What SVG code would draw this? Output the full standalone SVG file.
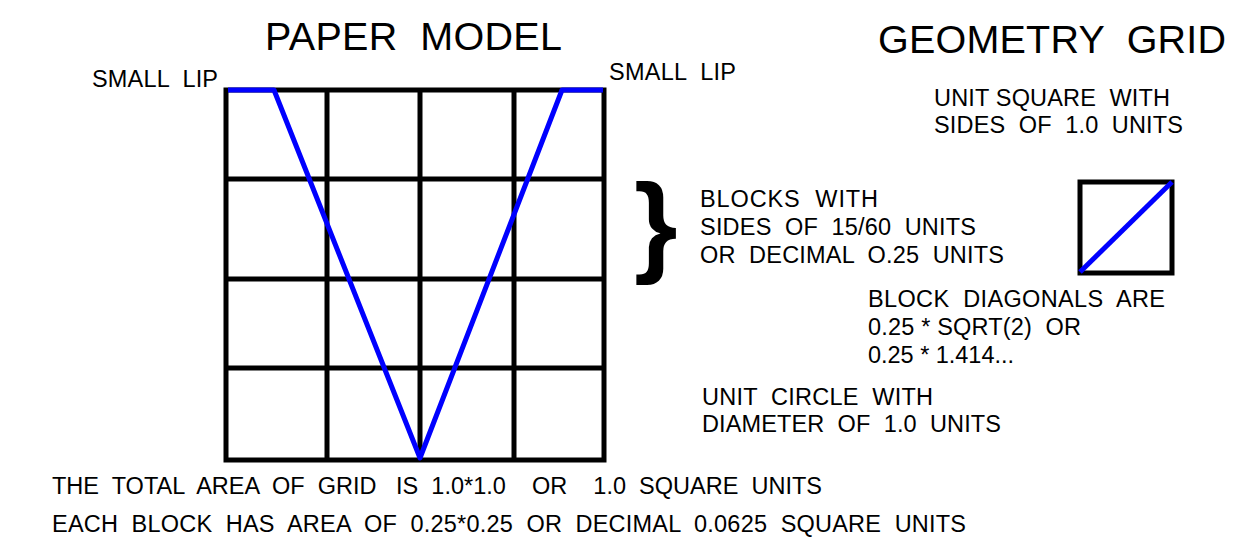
<svg xmlns="http://www.w3.org/2000/svg" width="1243" height="548" viewBox="0 0 1243 548" xml:space="preserve">
<style>
text{white-space:pre}
.t{font-family:"Liberation Sans",Arial,sans-serif;font-size:23.5px;fill:#000}
.h{font-family:"Liberation Sans",Arial,sans-serif;font-size:39.5px;fill:#000}
.g{stroke:#000;stroke-width:5;fill:none}
.b{stroke:#0000ff;stroke-width:5;fill:none;stroke-linejoin:round}
</style>
<rect width="1243" height="548" fill="#fff"/>
<g id="titles">
<text class="h" x="265" y="50" textLength="297" lengthAdjust="spacing">PAPER  MODEL</text>
<text class="h" x="878" y="53" textLength="348" lengthAdjust="spacing">GEOMETRY  GRID</text>
</g>
<g id="grid">
<rect class="g" x="226" y="90" width="378" height="370"/>
<line class="g" x1="327" y1="90" x2="327" y2="460"/>
<line class="g" x1="420" y1="90" x2="420" y2="460"/>
<line class="g" x1="514" y1="90" x2="514" y2="460"/>
<line class="g" x1="226" y1="179" x2="604" y2="179"/>
<line class="g" x1="226" y1="279" x2="604" y2="279"/>
<line class="g" x1="226" y1="368" x2="604" y2="368"/>
<polyline class="b" points="228,90 274,90 420,458 562,90 603,90"/>
</g>
<g id="lip-labels">
<text class="t" x="92" y="87" textLength="126" lengthAdjust="spacing">SMALL  LIP</text>
<text class="t" x="609" y="80" textLength="127" lengthAdjust="spacing">SMALL  LIP</text>
</g>
<g id="unit-square-label">
<text class="t" x="934" y="106" textLength="236" lengthAdjust="spacing">UNIT SQUARE  WITH</text>
<text class="t" x="934" y="133" textLength="249" lengthAdjust="spacing">SIDES  OF  1.0  UNITS</text>
</g>
<g id="brace">
<text x="634" y="262" style="font-family:'Liberation Sans',Arial,sans-serif;font-size:112px;font-weight:bold;fill:#000">}</text>
</g>
<g id="blocks-label">
<text class="t" x="700" y="207" textLength="178" lengthAdjust="spacing">BLOCKS  WITH</text>
<text class="t" x="700" y="235" textLength="276" lengthAdjust="spacing">SIDES  OF  15/60  UNITS</text>
<text class="t" x="700" y="263" textLength="304" lengthAdjust="spacing">OR  DECIMAL  O.25  UNITS</text>
</g>
<g id="unit-square">
<rect class="g" x="1080" y="182" width="92" height="91"/>
<line class="b" x1="1080" y1="272" x2="1172" y2="182"/>
</g>
<g id="diagonal-label">
<text class="t" x="868" y="307" textLength="297" lengthAdjust="spacing">BLOCK  DIAGONALS  ARE</text>
<text class="t" x="868" y="335" textLength="213" lengthAdjust="spacing">0.25 * SQRT(2)  OR</text>
<text class="t" x="868" y="363" textLength="146" lengthAdjust="spacing">0.25 * 1.414...</text>
</g>
<g id="circle-label">
<text class="t" x="702" y="405" textLength="231" lengthAdjust="spacing">UNIT  CIRCLE  WITH</text>
<text class="t" x="702" y="432" textLength="299" lengthAdjust="spacing">DIAMETER  OF  1.0  UNITS</text>
</g>
<g id="area-notes">
<text class="t" x="52" y="494" textLength="770" lengthAdjust="spacing">THE  TOTAL  AREA  OF  GRID   IS  1.0*1.0    OR    1.0  SQUARE  UNITS</text>
<text class="t" x="52" y="532" textLength="914" lengthAdjust="spacing">EACH  BLOCK  HAS  AREA  OF  0.25*0.25  OR  DECIMAL  0.0625  SQUARE  UNITS</text>
</g>
<g id="connectors"></g>
</svg>
